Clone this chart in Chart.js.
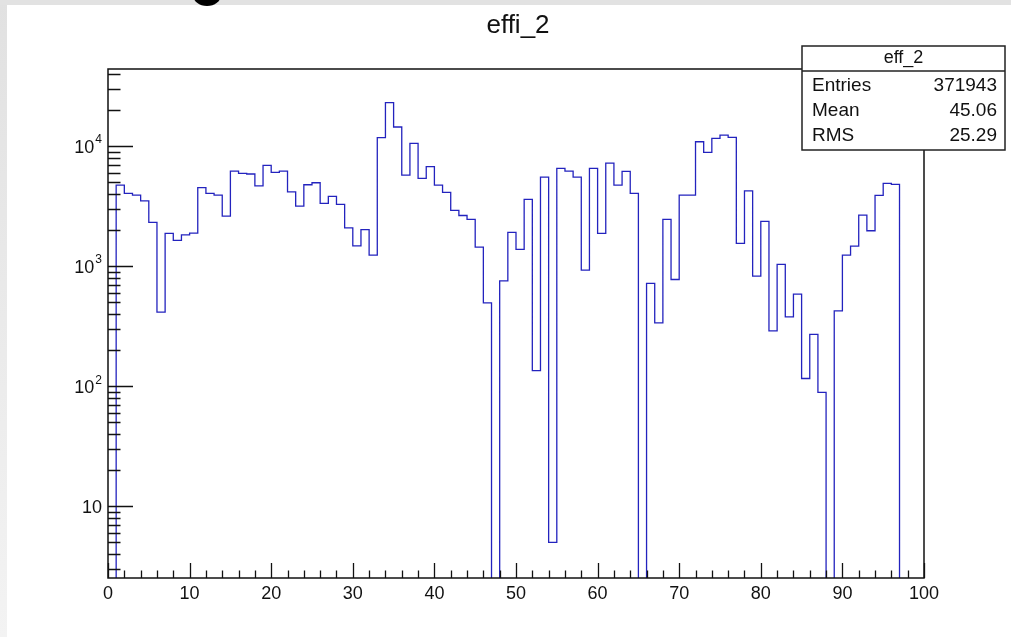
<!DOCTYPE html>
<html>
<head>
<meta charset="utf-8">
<title>effi_2</title>
<script src="https://cdn.jsdelivr.net/npm/chart.js@4.4.1/dist/chart.umd.min.js"></script>
<style>
  html, body { margin: 0; padding: 0; background: #fff; }
  #wrap { position: relative; width: 1011px; height: 637px; }
</style>
</head>
<body>
<div id="wrap"><canvas id="histo" width="1011" height="637"></canvas></div>
<script>
// histogram contents, one value per unit bin from 0 to 100 (0 = empty bin)
const binCounts = [
  0, 4730, 4035, 3905, 3500, 2312, 414, 1872, 1636, 1823,
  1884, 4500, 4035, 3905, 2610, 6190, 5920, 5850, 4665, 6900,
  6040, 6190, 4160, 3160, 4760, 4945, 3330, 3810, 3270, 2085,
  1475, 2010, 1235, 11730, 22950, 14400, 5730, 10520, 5380, 6730,
  4730, 4110, 2910, 2640, 2450, 1440, 494, 0, 755, 1910,
  1378, 3595, 135, 5520, 5, 6520, 6190, 5520, 926, 6520,
  1872, 7220, 4730, 6150, 4035, 0, 718, 337, 2450, 774,
  3905, 3905, 10860, 8850, 11590, 12350, 11810, 1546, 4240, 826,
  2357, 289, 1033, 378, 585, 116, 270, 89, 0, 424,
  1235, 1468, 2660, 1970, 3880, 4890, 4795, 0, 0, 0
];
const xMin = 0, xMax = 100;
const yMin = 2.53, yMax = 43800;

const xTickValues = [0, 10, 20, 30, 40, 50, 60, 70, 80, 90, 100];
const xTickLabels = ['0', '10', '20', '30', '40', '50', '60', '70', '80', '90', '100'];
const yTickValues = [10, 100, 1000, 10000];
const yTickBase = ['10', '10', '10', '10'];
const yTickExp = ['', '2', '3', '4'];

const histTitle = 'effi_2';
const statsTitle = 'eff_2';
const statsNames = ['Entries', 'Mean', 'RMS'];
const statsValues = ['371943', '45.06', '25.29'];

const FONT = "'Liberation Sans', Arial, Helvetica, sans-serif";

// step points at each bin low edge; empty bins go below the axis and get clipped
const points = binCounts.map((c, i) => ({ x: xMin + i, y: c > 0 ? c : 1 }));
points.push({ x: xMax, y: 1 });

const pageDecor = {
  id: 'pageDecor',
  beforeDraw(chart) {
    const ctx = chart.ctx;
    ctx.save();
    ctx.fillStyle = '#fff';
    ctx.fillRect(0, 0, chart.width, chart.height);
    // grey window border left and top
    const g = ctx.createLinearGradient(0, 0, 0, chart.height);
    g.addColorStop(0, '#e1e1e1');
    g.addColorStop(1, '#f3f3f3');
    ctx.fillStyle = g;
    ctx.fillRect(0, 0, 7, chart.height);
    ctx.fillStyle = '#e2e2e2';
    ctx.fillRect(0, 0, chart.width, 5);
    // bit of a glyph poking in from above
    ctx.fillStyle = '#000';
    ctx.beginPath();
    ctx.ellipse(207, -5, 14, 11, 0, 0, Math.PI * 2);
    ctx.fill();
    // title
    ctx.fillStyle = '#111';
    ctx.font = '26px ' + FONT;
    ctx.textAlign = 'center';
    ctx.textBaseline = 'middle';
    ctx.fillText(histTitle, 518, 26);
    ctx.restore();
  }
};

const rootAxes = {
  id: 'rootAxes',
  afterDatasetsDraw(chart) {
    const { ctx, chartArea: a, scales: { x, y } } = chart;
    ctx.save();
    ctx.strokeStyle = '#111';
    ctx.lineWidth = 1.5;
    ctx.strokeRect(a.left, a.top, a.right - a.left, a.bottom - a.top);

    // x ticks, pointing up into the frame
    ctx.lineWidth = 1.3;
    ctx.beginPath();
    for (let v = xMin; v <= xMax; v += 2) {
      const px = Math.round(x.getPixelForValue(v)) + 0.5;
      const len = v % 10 === 0 ? 15 : 7.5;
      ctx.moveTo(px, a.bottom);
      ctx.lineTo(px, a.bottom - len);
    }
    // y ticks: decades long, 2..9 short
    for (let dec = 1; dec <= 10000; dec *= 10) {
      for (let m = 1; m <= 9; m++) {
        const v = dec * m;
        if (v < yMin || v > yMax) continue;
        const py = Math.round(y.getPixelForValue(v)) + 0.5;
        const len = m === 1 ? 25 : 12.5;
        ctx.moveTo(a.left, py);
        ctx.lineTo(a.left + len, py);
      }
    }
    ctx.stroke();

    // tick labels
    ctx.fillStyle = '#111';
    ctx.font = '18px ' + FONT;
    ctx.textAlign = 'center';
    ctx.textBaseline = 'middle';
    xTickValues.forEach((v, i) => {
      ctx.fillText(xTickLabels[i], x.getPixelForValue(v), a.bottom + 16);
    });
    const right = a.left - 6;
    yTickValues.forEach((v, i) => {
      const py = y.getPixelForValue(v) + 2;
      let r = right;
      if (yTickExp[i]) {
        ctx.font = '12px ' + FONT;
        ctx.textAlign = 'right';
        ctx.fillText(yTickExp[i], r, py - 8);
        r -= ctx.measureText(yTickExp[i]).width + 1;
      }
      ctx.font = '18px ' + FONT;
      ctx.textAlign = 'right';
      ctx.fillText(yTickBase[i], r, py);
    });

    // stats box over the top right corner
    const bx = 802, by = 46, bw = 203, bh = 104;
    ctx.fillStyle = '#fff';
    ctx.fillRect(bx, by, bw, bh);
    ctx.strokeStyle = '#222';
    ctx.lineWidth = 1.5;
    ctx.strokeRect(bx, by, bw, bh);
    ctx.beginPath();
    ctx.moveTo(bx, by + 25);
    ctx.lineTo(bx + bw, by + 25);
    ctx.stroke();
    ctx.fillStyle = '#111';
    ctx.font = '18px ' + FONT;
    ctx.textAlign = 'center';
    ctx.fillText(statsTitle, bx + bw / 2, by + 12);
    ctx.font = '19px ' + FONT;
    statsNames.forEach((name, i) => {
      const ty = by + 40 + i * 25;
      ctx.textAlign = 'left';
      ctx.fillText(name, bx + 10, ty);
      ctx.textAlign = 'right';
      ctx.fillText(statsValues[i], bx + bw - 8, ty);
    });
    ctx.restore();
  }
};

new Chart(document.getElementById('histo'), {
  type: 'line',
  data: {
    datasets: [{
      label: statsTitle,
      data: points,
      stepped: true,
      borderColor: 'rgb(35, 35, 190)',
      borderWidth: 1.3,
      pointRadius: 0,
      fill: false,
      tension: 0,
      clip: 0
    }]
  },
  options: {
    responsive: false,
    animation: false,
    layout: { padding: { left: 108, top: 69, right: 87, bottom: 59 } },
    plugins: {
      legend: { display: false },
      tooltip: { enabled: false },
      title: { display: false }
    },
    scales: {
      x: { type: 'linear', min: xMin, max: xMax, display: false },
      y: { type: 'logarithmic', min: yMin, max: yMax, display: false }
    }
  },
  plugins: [pageDecor, rootAxes]
});
</script>
</body>
</html>
